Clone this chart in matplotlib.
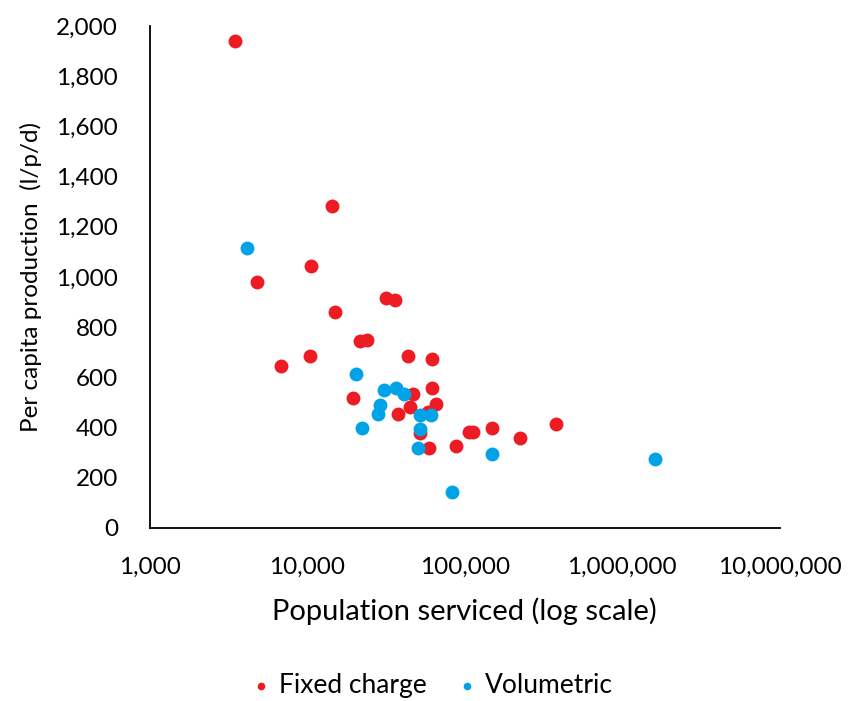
import matplotlib.pyplot as plt
from matplotlib.ticker import FuncFormatter, FixedLocator, NullLocator

plt.rcParams["font.family"] = ["Lato", "DejaVu Sans"]

# Population serviced and per capita production (l/p/d)
fixed_pop = [3460, 14400, 10500, 4770, 31700, 35800, 14900, 21700, 23900, 10450,
             6770, 43900, 62000, 46700, 62000, 19500, 65800, 45200, 37900, 58200,
             52300, 59000, 88500, 107000, 112000, 150000, 225000, 379000]
fixed_lpd = [1940, 1282, 1043, 979, 917, 908, 860, 744, 750, 685,
             645, 685, 671, 534, 558, 518, 494, 481, 455, 462,
             377, 319, 327, 383, 383, 399, 359, 415]

vol_pop = [4120, 20500, 30900, 36700, 41400, 29100, 28300, 52300, 60800, 22400,
           52300, 50800, 150000, 83000, 1620000]
vol_lpd = [1114, 614, 551, 559, 534, 488, 453, 448, 448, 399,
           392, 319, 295, 144, 274]

red = "#ED1C24"
blue = "#00A2E8"

fig = plt.figure(figsize=(8.52, 7.01), dpi=100)
ax = fig.add_axes([0.176, 0.247, 0.739, 0.716])

ax.scatter(fixed_pop, fixed_lpd, s=100, color=red, linewidths=0, label="Fixed charge", zorder=3)
ax.scatter(vol_pop, vol_lpd, s=100, color=blue, linewidths=0, label="Volumetric", zorder=3)

ax.set_xscale("log")
ax.set_xlim(1000, 1e7)
ax.set_ylim(0, 2000)
ax.xaxis.set_major_locator(FixedLocator([1e3, 1e4, 1e5, 1e6, 1e7]))
ax.xaxis.set_minor_locator(NullLocator())
ax.set_yticks(range(0, 2001, 200))
comma = FuncFormatter(lambda v, p: f"{int(round(v)):,}")
ax.xaxis.set_major_formatter(comma)
ax.yaxis.set_major_formatter(comma)
ax.tick_params(axis="both", length=0, labelsize=17.5, colors="black")
ax.tick_params(axis="x", pad=21)
ax.tick_params(axis="y", pad=23)

for s in ["top", "right"]:
    ax.spines[s].set_visible(False)
for s in ["left", "bottom"]:
    ax.spines[s].set_linewidth(1.3)

ax.set_xlabel("Population serviced (log scale)", fontsize=21, labelpad=14)
ax.set_ylabel("Per capita production  (l/p/d)", fontsize=17.5, labelpad=10)

fig.legend(loc="center", bbox_to_anchor=(0.505, 0.022), ncol=2, frameon=False,
           fontsize=19, markerscale=0.55, handlelength=1.0, handletextpad=0.2,
           columnspacing=1.0)

fig.savefig("out.png", dpi=100)
